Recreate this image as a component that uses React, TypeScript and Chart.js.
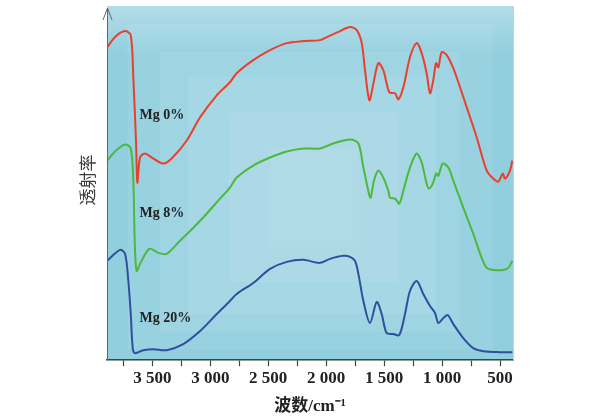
import React, { useEffect, useRef } from "react";
import { Chart, registerables } from "chart.js";

Chart.register(...registerables);

// Wavenumber (cm^-1) and relative transmittance (a.u.) for each sample
const redWn = [3890, 3813, 3735, 3686, 3664, 3640, 3629, 3606, 3563, 3505, 3405, 3333, 3203, 3088, 2944, 2830, 2772, 2629, 2484, 2340, 2197, 2053, 1995, 1880, 1794, 1736, 1693, 1665, 1627, 1592, 1550, 1507, 1455, 1406, 1377, 1334, 1277, 1219, 1176, 1133, 1104, 1076, 1052, 1032, 1003, 960, 903, 845, 787, 701, 615, 558, 515, 477, 457, 414, 394];
const redT = [312, 323, 328, 324, 282, 216, 177, 202, 206, 202, 196, 201, 219, 242, 264, 277, 286, 299, 309, 316, 318, 319, 322, 328, 332, 329, 316, 289, 259, 276, 296, 289, 267, 266, 260, 272, 302, 316, 306, 286, 266, 279, 296, 292, 307, 304, 291, 272, 252, 222, 189, 181, 178, 186, 181, 189, 199];

const greenWn = [3890, 3813, 3735, 3686, 3664, 3650, 3635, 3606, 3526, 3448, 3376, 3261, 3146, 3031, 2916, 2830, 2772, 2629, 2484, 2340, 2197, 2053, 1938, 1794, 1722, 1679, 1627, 1616, 1587, 1550, 1507, 1464, 1449, 1406, 1369, 1334, 1277, 1219, 1176, 1133, 1111, 1076, 1052, 1032, 994, 946, 903, 817, 731, 658, 615, 558, 472, 429, 394];
const greenT = [199, 209, 215, 211, 179, 112, 89, 96, 111, 107, 106, 119, 132, 146, 161, 172, 182, 194, 202, 208, 211, 211, 216, 220, 216, 192, 164, 162, 179, 189, 182, 169, 162, 161, 156, 169, 192, 206, 197, 176, 171, 177, 186, 184, 196, 192, 179, 152, 126, 102, 92, 90, 90, 92, 99];

const blueWn = [3890, 3779, 3735, 3707, 3686, 3669, 3649, 3578, 3491, 3376, 3233, 3088, 2944, 2830, 2772, 2629, 2484, 2340, 2197, 2053, 1967, 1852, 1794, 1751, 1722, 1679, 1622, 1564, 1521, 1478, 1420, 1369, 1320, 1277, 1219, 1162, 1104, 1061, 1032, 989, 951, 903, 817, 731, 644, 500, 394];
const blueT = [99, 110, 106, 79, 46, 12, 7, 10, 11, 10, 16, 29, 46, 59, 66, 77, 91, 98, 100, 97, 101, 104, 103, 99, 86, 59, 37, 58, 46, 27, 26, 25, 46, 69, 79, 66, 54, 47, 37, 42, 45, 36, 22, 12, 9, 8, 8];

const seriesLabels = ["Mg 0%", "Mg 8%", "Mg 20%"];
const xTicks = [3750, 3500, 3250, 3000, 2750, 2500, 2250, 2000, 1750, 1500, 1250, 1000, 750, 500];
const xTitle = "波数/cm⁻¹";
const yTitle = "透射率";

const toPts = (xs: number[], ys: number[]) => xs.map((x, i) => ({ x, y: ys[i] }));

const fmt = (v: number) => {
  if (v % 500 !== 0) return "";
  if (v >= 1000) return `${Math.floor(v / 1000)} ${String(v % 1000).padStart(3, "0")}`;
  return String(v);
};

const decorPlugin = {
  id: "decor",
  beforeDraw(chart: any) {
    const { ctx, chartArea: a } = chart;
    ctx.save();
    const w = a.right - a.left;
    const h = a.bottom - a.top;
    ctx.fillStyle = "#91cede";
    ctx.fillRect(a.left, a.top, w, h);
    const layers = [
      [0.05, 0.05, 0.95, 0.97, 0.07],
      [0.13, 0.13, 0.87, 0.92, 0.07],
      [0.2, 0.2, 0.81, 0.87, 0.08],
      [0.3, 0.3, 0.72, 0.78, 0.07],
      [0.4, 0.4, 0.62, 0.68, 0.06],
    ];
    for (const [x0, y0, x1, y1, al] of layers) {
      ctx.fillStyle = `rgba(255,255,255,${al})`;
      ctx.fillRect(a.left + w * x0, a.top + h * y0, w * (x1 - x0), h * (y1 - y0));
    }
    const g = ctx.createLinearGradient(0, a.top, 0, a.top + 50);
    g.addColorStop(0, "rgba(255,255,255,0.3)");
    g.addColorStop(1, "rgba(255,255,255,0)");
    ctx.fillStyle = g;
    ctx.fillRect(a.left, a.top, w, 50);
    ctx.restore();
  },
  afterDraw(chart: any) {
    const { ctx, chartArea: a, scales } = chart;
    ctx.save();
    // y axis line with arrow
    ctx.strokeStyle = "#666";
    ctx.lineWidth = 1;
    ctx.beginPath();
    ctx.moveTo(a.left + 0.5, a.bottom);
    ctx.lineTo(a.left + 0.5, a.top + 2);
    ctx.stroke();
    ctx.beginPath();
    ctx.moveTo(a.left - 4, a.top + 14);
    ctx.lineTo(a.left + 0.5, a.top + 2);
    ctx.lineTo(a.left + 5, a.top + 14);
    ctx.stroke();
    // right frame
    ctx.strokeStyle = "#c3d3d8";
    ctx.beginPath();
    ctx.moveTo(a.right + 0.5, a.top);
    ctx.lineTo(a.right + 0.5, a.bottom);
    ctx.stroke();
    // y title
    ctx.fillStyle = "#3a3a3a";
    ctx.font = "17px 'Noto Sans CJK SC'";
    ctx.textAlign = "center";
    ctx.textBaseline = "middle";
    ctx.translate(a.left - 19, 180);
    ctx.rotate(-Math.PI / 2);
    ctx.fillText(yTitle, 0, 0);
    ctx.setTransform(1, 0, 0, 1, 0, 0);
    // series labels
    ctx.font = "bold 14px 'Liberation Serif'";
    ctx.fillStyle = "#222";
    ctx.textAlign = "left";
    const lx = scales.x.getPixelForValue(3610);
    const ly = [244, 146, 42];
    seriesLabels.forEach((t, i) => {
      ctx.fillText(t, lx, scales.y.getPixelForValue(ly[i]));
    });
    ctx.restore();
  },
};

export default function App() {
  const ref = useRef<HTMLCanvasElement>(null);
  useEffect(() => {
    if (!ref.current) return;
    const mk = (label: string, xs: number[], ys: number[], color: string) => ({
      label,
      data: toPts(xs, ys),
      borderColor: color,
      borderWidth: 2,
      pointRadius: 0,
      tension: 0.3,
      fill: false,
    });
    const chart = new Chart(ref.current, {
      type: "line",
      data: {
        datasets: [
          mk(seriesLabels[0], redWn, redT, "#e8402c"),
          mk(seriesLabels[1], greenWn, greenT, "#4cb83c"),
          mk(seriesLabels[2], blueWn, blueT, "#2f4f9e"),
        ],
      },
      options: {
        animation: false,
        responsive: false,
        maintainAspectRatio: false,
        layout: { padding: { left: 107, right: 76, top: 6, bottom: 2 } },
        plugins: { legend: { display: false }, tooltip: { enabled: false } },
        scales: {
          x: {
            type: "linear",
            reverse: true,
            min: 388,
            max: 3891,
            afterBuildTicks: (s: any) => {
              s.ticks = xTicks.map((v) => ({ value: v }));
            },
            grid: {
              display: true,
              drawOnChartArea: false,
              drawTicks: true,
              tickLength: 6,
              tickColor: "#3a4a3a",
              tickWidth: 1.2,
            },
            border: { display: true, color: "#3a4a3a", width: 1.5 },
            ticks: {
              autoSkip: false,
              maxRotation: 0,
              padding: 2,
              color: "#222",
              font: { family: "'Liberation Serif'", size: 17, weight: "bold" },
              callback: (v: any) => fmt(Number(v)),
            },
            title: {
              display: true,
              text: xTitle,
              color: "#222",
              padding: { top: 6, bottom: 0 },
              font: { family: "'Liberation Serif', 'Noto Sans CJK SC'", size: 17, weight: "bold" },
            },
          },
          y: {
            display: false,
            min: 0,
            max: 353,
          },
        },
      },
      plugins: [decorPlugin],
    } as any);
    return () => chart.destroy();
  }, []);
  return (
    <div style={{ position: "absolute", left: 0, top: 0, width: 589, height: 419, background: "#fff" }}>
      <canvas ref={ref} width={589} height={419} style={{ width: 589, height: 419, display: "block" }} />
    </div>
  );
}
